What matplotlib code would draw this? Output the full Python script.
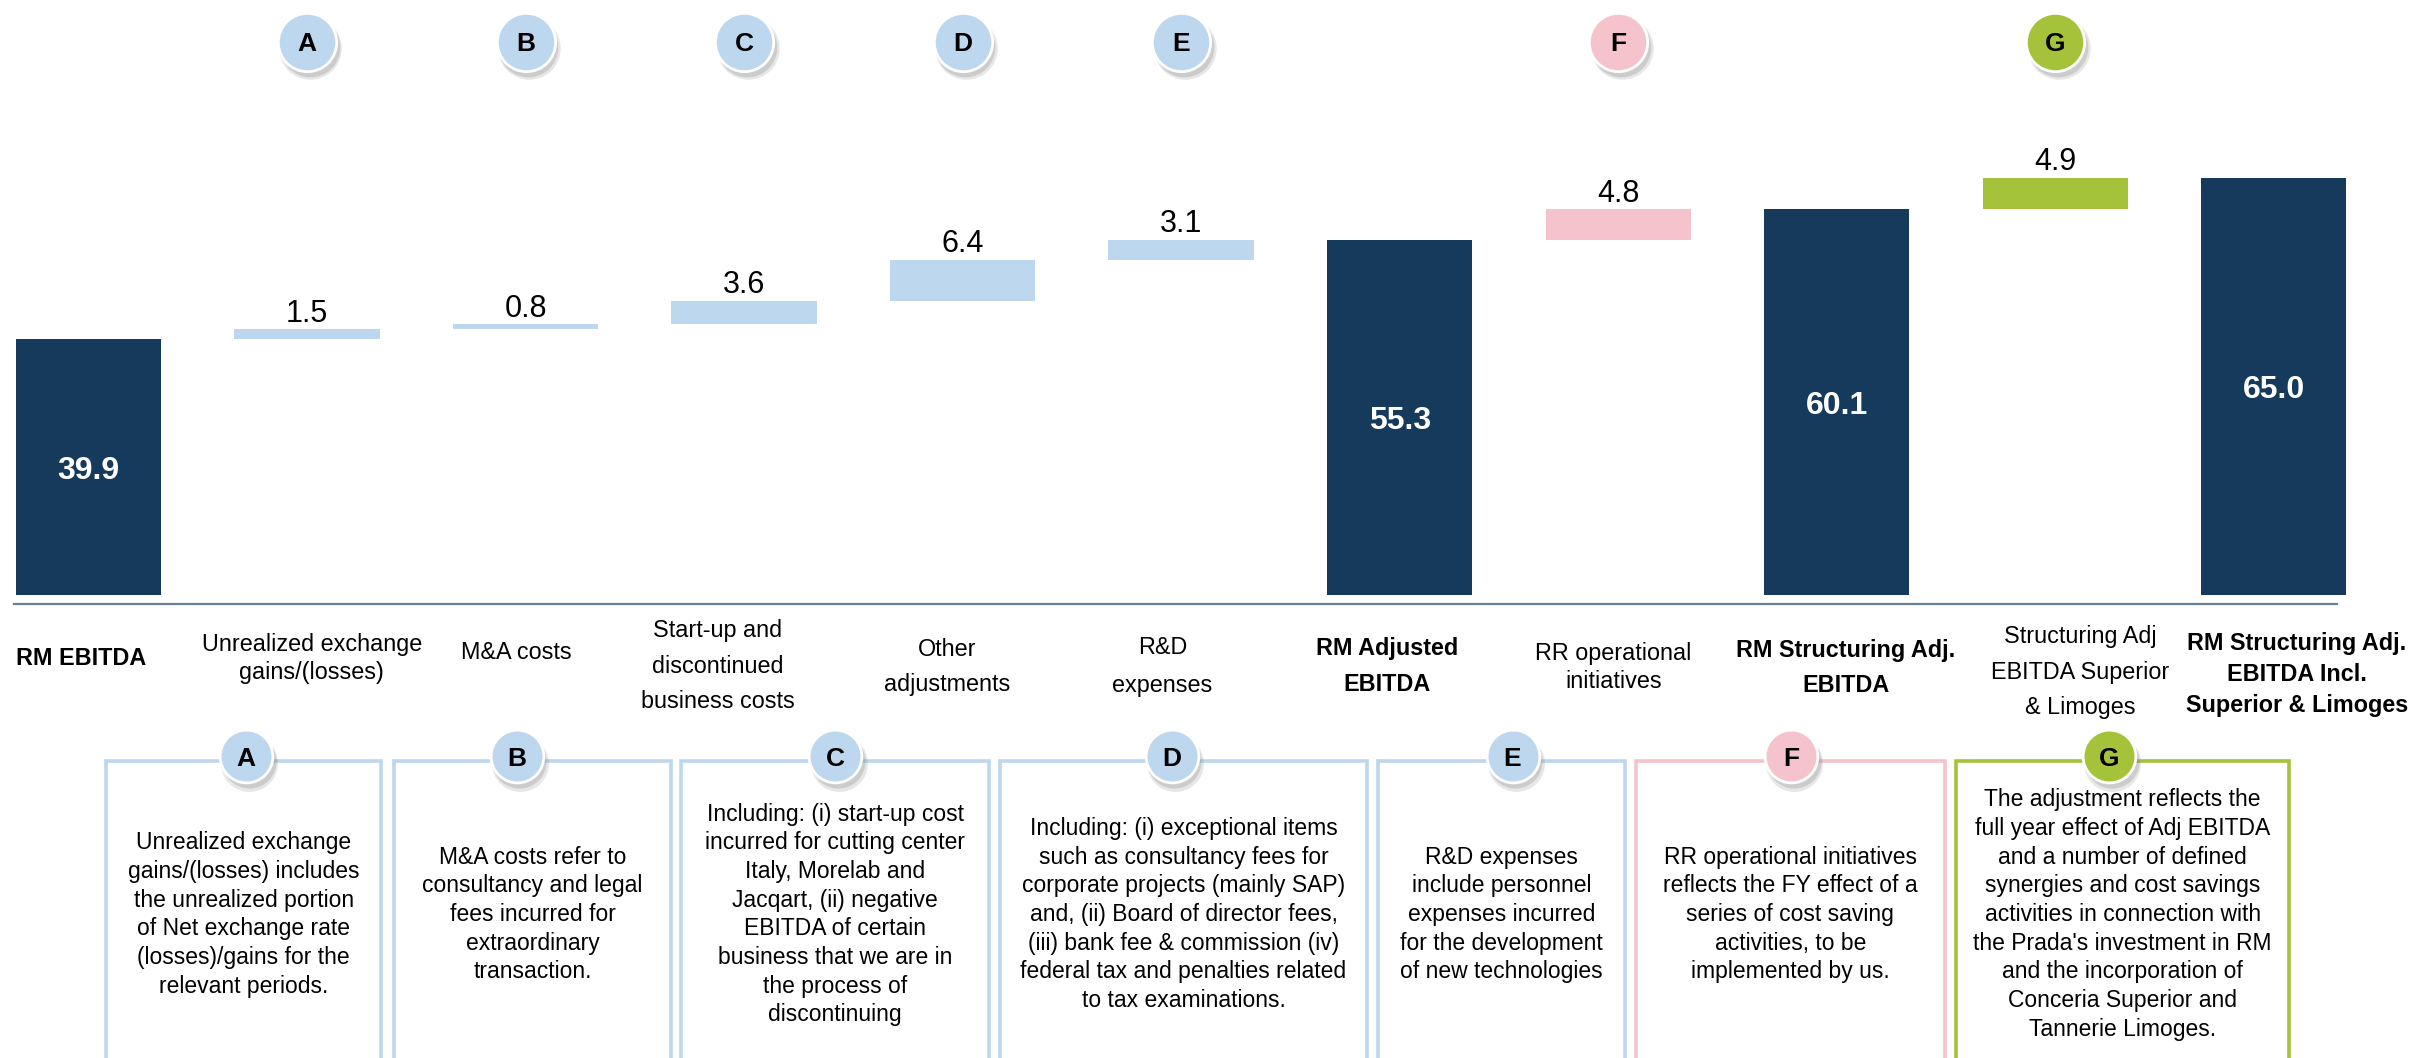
import matplotlib
matplotlib.use("Agg")
import matplotlib.pyplot as plt
from matplotlib.lines import Line2D
from matplotlib.transforms import blended_transform_factory, ScaledTranslation

plt.rcParams['font.family'] = ['Liberation Sans', 'DejaVu Sans']

# ---------------- data ----------------
categories = [
    "RM EBITDA",
    "Unrealized exchange\ngains/(losses)",
    "M&A costs",
    "Start-up and\ndiscontinued\nbusiness costs",
    "Other\nadjustments",
    "R&D\nexpenses",
    "RM Adjusted\nEBITDA",
    "RR operational\ninitiatives",
    "RM Structuring Adj.\nEBITDA",
    "Structuring Adj\nEBITDA Superior\n& Limoges",
    "RM Structuring Adj.\nEBITDA Incl.\nSuperior & Limoges",
]
values = [39.9, 1.5, 0.8, 3.6, 6.4, 3.1, 55.3, 4.8, 60.1, 4.9, 65.0]
kinds = ["total", "delta", "delta", "delta", "delta", "delta",
         "total", "delta", "total", "delta", "total"]
bar_letters = ["", "A", "B", "C", "D", "E", "", "F", "", "G", ""]

note_letters = ["A", "B", "C", "D", "E", "F", "G"]
note_texts = [
    "Unrealized exchange\ngains/(losses) includes\nthe unrealized portion\nof Net exchange rate\n(losses)/gains for the\nrelevant periods.",
    "M&A costs refer to\nconsultancy and legal\nfees incurred for\nextraordinary\ntransaction.",
    "Including: (i) start-up cost\nincurred for cutting center\nItaly, Morelab and\nJacqart, (ii) negative\nEBITDA of certain\nbusiness that we are in\nthe process of\ndiscontinuing",
    "Including: (i) exceptional items\nsuch as consultancy fees for\ncorporate projects (mainly SAP)\nand, (ii) Board of director fees,\n(iii) bank fee & commission (iv)\nfederal tax and penalties related\nto tax examinations.",
    "R&D expenses\ninclude personnel\nexpenses incurred\nfor the development\nof new technologies",
    "RR operational initiatives\nreflects the FY effect of a\nseries of cost saving\nactivities, to be\nimplemented by us.",
    "The adjustment reflects the\nfull year effect of Adj EBITDA\nand a number of defined\nsynergies and cost savings\nactivities in connection with\nthe Prada's investment in RM\nand the incorporation of\nConceria Superior and\nTannerie Limoges.",
]

# ---------------- style / layout ----------------
NAVY = "#153A5B"
BLUE = "#BDD7EE"
PINK = "#F4C3CC"
GREEN = "#A5C33A"
letter_colors = {"A": BLUE, "B": BLUE, "C": BLUE, "D": BLUE, "E": BLUE,
                 "F": PINK, "G": GREEN}

W, H = 2425, 1058
RW, RH = 1568, 684          # layout measured in this reference scale
SC = W / RW


def fx(px):
    return px / RW


def fy(py):
    return 1 - py / RH


fig = plt.figure(figsize=(W / 100, H / 100), dpi=100)
fig.patch.set_facecolor("white")

base_py = 384.8
px_per_unit = 4.152
slot = 141.3
first_center = 57.2
bar_w = 0.665

ax = fig.add_axes([0, fy(base_py), 1, 1 - fy(base_py)])
ax.set_xlim(-first_center / slot, (RW - first_center) / slot)
ax.set_ylim(0, base_py / px_per_unit)
ax.axis("off")

x = list(range(len(values)))
bottoms = []
running = 0.0
for v, k in zip(values, kinds):
    if k == "total":
        bottoms.append(0.0)
        running = v
    else:
        bottoms.append(running)
        running += v
colors = [NAVY if k == "total" else letter_colors[l] for k, l in zip(kinds, bar_letters)]
ax.bar(x, values, bottom=bottoms, width=bar_w, color=colors, linewidth=0)

for i, (v, b, k) in enumerate(zip(values, bottoms, kinds)):
    if k == "total":
        ax.text(i, b + v / 2, f"{v:.1f}", ha="center", va="center_baseline",
                color="white", fontsize=23, fontweight="bold")
    else:
        ax.annotate(f"{v:.1f}", xy=(i, b + v), xytext=(0, 5.5),
                    textcoords="offset points", ha="center", va="baseline",
                    fontsize=22, color="black")

# axis line
fig.add_artist(Line2D([fx(9), fx(1511)], [fy(390.6)] * 2, color="#64829C", lw=1.6))

blend = blended_transform_factory(ax.transData, fig.transFigure)


def circle(transform, xx, yy, letter, ms, fs):
    col = letter_colors[letter]
    for (dx, dy, a, extra) in [(2.5, -4.5, 0.18, 3), (2.0, -3.5, 0.25, 1)]:
        tr = transform + ScaledTranslation(dx / 72, dy / 72, fig.dpi_scale_trans)
        fig.add_artist(Line2D([xx], [yy], transform=tr, marker="o", ms=ms + extra,
                              mfc="#7F7F7F", mec="none", alpha=a, linestyle="none"))
    fig.add_artist(Line2D([xx], [yy], transform=transform, marker="o", ms=ms,
                          mfc=col, mec="white", mew=2.0, linestyle="none"))
    fig.text(xx, yy, letter, transform=transform, ha="center", va="center_baseline",
             fontsize=fs, fontweight="bold", color="black")


# top letter circles above the adjustment bars
for i, l in enumerate(bar_letters):
    if l:
        circle(blend, i, fy(27), l, 42, 19)

# category labels (line by line)
label_cy = [424.5, 425, 421, 429.7, 430.4, 430.1, 429.7, 430.5, 431, 433.6, 435]
label_pitch = [0, 18.2, 0, 22.9, 22.6, 24.2, 23.3, 18.3, 22.7, 23.1, 20.0]
label_dx = [0, 3, -6, -17, -10, -12, -8, -3, 6, 16, 15]
label_bold = [k == "total" for k in kinds]
FS = 16.8
fs_ref = FS * 100 / 72 / SC


def draw_lines(tr, xx, cy, pitch, text, ha="center", **kw):
    lines = text.split("\n")
    n = len(lines)
    for j, line in enumerate(lines):
        c = cy + (j - (n - 1) / 2) * pitch
        base = c + 0.34 * fs_ref
        fig.text(xx, fy(base), line, transform=tr, ha=ha, va="baseline", **kw)


for i, cat in enumerate(categories):
    if i == 0:
        xx, ha = i - bar_w / 2, "left"
    else:
        xx, ha = i + label_dx[i] / slot, "center"
    draw_lines(blend, xx, label_cy[i], label_pitch[i], cat, ha=ha, fontsize=FS,
               fontweight="bold" if label_bold[i] else "normal", color="black")

# note boxes
box_left = [68.5, 254.8, 440.4, 646.7, 891.0, 1057.7, 1265.0]
box_right = [246.6, 433.8, 639.5, 883.8, 1050.6, 1257.5, 1480.0]
box_top = 492.3
note_circle_x = [159, 334, 540, 757.5, 978, 1158, 1363.5]
for l, t, bl, br, cx in zip(note_letters, note_texts, box_left, box_right, note_circle_x):
    col = letter_colors[l]
    fig.add_artist(Line2D([fx(bl), fx(bl), fx(br), fx(br)],
                          [fy(700), fy(box_top), fy(box_top), fy(700)],
                          color=col, lw=2.6, solid_joinstyle="miter"))
    circle(fig.transFigure, fx(cx), fy(489), l, 38, 19)
    draw_lines(fig.transFigure, fx((bl + br) / 2), 590.3, 18.53, t,
               fontsize=16.5, color="black")

fig.savefig("out.png", dpi=100, facecolor="white")
